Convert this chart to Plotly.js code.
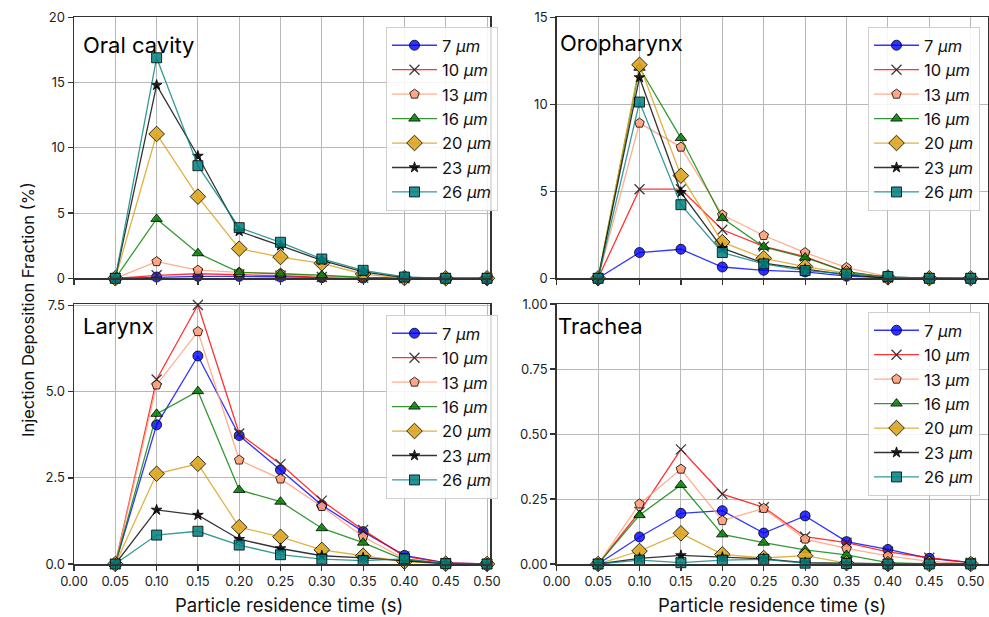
<!DOCTYPE html>
<html><head><meta charset="utf-8">
<script src="https://cdn.plot.ly/plotly-3.0.1.min.js"></script>
<style>html,body{margin:0;padding:0;background:#fff}#chart{width:989px;height:617px}</style>
</head><body><div id="chart"></div>
<script>
// residence time (s)
const times = [0.05,0.10,0.15,0.20,0.25,0.30,0.35,0.40,0.45,0.50];
const sizeLabels = ['7','10','13','16','20','23','26'];
const xTicks = [0,0.05,0.10,0.15,0.20,0.25,0.30,0.35,0.40,0.45,0.50];

// rows: 7, 10, 13, 16, 20, 23, 26 um
const oralCavity = [
  [0,0.10,0.15,0.15,0.10,0.05,0.02,0,0,0],
  [0,0.23,0.35,0.30,0.20,0.10,0.03,0,0,0],
  [0,1.28,0.62,0.45,0.38,0.12,0.04,0,0,0],
  [0,4.55,1.92,0.46,0.35,0.24,0.06,0.01,0,0],
  [0,11.06,6.26,2.27,1.63,1.15,0.33,0.02,0,0],
  [0,14.8,9.37,3.6,2.5,1.38,0.5,0.05,0,0],
  [0,16.9,8.63,3.88,2.76,1.48,0.61,0.1,0,0]
];
const oropharynx = [
  [0,1.48,1.67,0.65,0.46,0.37,0.12,0.03,0,0],
  [0,5.12,5.12,2.79,1.83,1.25,0.35,0.05,0,0],
  [0,8.92,7.54,3.65,2.46,1.48,0.62,0.1,0,0],
  [0,12.1,8.06,3.46,1.81,1.19,0.38,0.05,0,0],
  [0,12.27,5.9,2.08,1.15,0.67,0.29,0.05,0,0],
  [0,11.54,4.94,1.73,0.87,0.52,0.2,0.03,0,0],
  [0,10.13,4.23,1.48,0.83,0.44,0.25,0.1,0,0]
];
const larynx = [
  [0,4.04,6.04,3.73,2.73,1.71,0.94,0.25,0.03,0],
  [0,5.36,7.52,3.79,2.9,1.84,0.99,0.22,0.03,0],
  [0,5.2,6.75,3.02,2.47,1.67,0.79,0.15,0.02,0],
  [0,4.36,5.02,2.15,1.81,1.04,0.62,0.12,0.01,0],
  [0,2.62,2.91,1.07,0.79,0.41,0.24,0.07,0.01,0],
  [0,1.57,1.42,0.72,0.45,0.24,0.18,0.1,0.01,0],
  [0,0.84,0.95,0.55,0.27,0.14,0.1,0.15,0.01,0]
];
const trachea = [
  [0,0.104,0.195,0.205,0.119,0.185,0.086,0.056,0.022,0.005],
  [0,0.2,0.441,0.269,0.218,0.105,0.082,0.047,0.024,0.005],
  [0,0.231,0.365,0.167,0.214,0.096,0.06,0.031,0.01,0],
  [0,0.188,0.304,0.114,0.082,0.054,0.035,0.005,0,0],
  [0,0.05,0.118,0.037,0.023,0.032,0.003,0,0,0],
  [0,0.022,0.033,0.026,0.02,0.005,0.002,0,0,0],
  [0,0.015,0.005,0.015,0.018,0.003,0.002,0,0,0]
];

const lineColors = ['rgba(0,0,255,0.8)','rgba(255,0,0,0.8)','rgba(255,160,122,0.85)','rgba(0,128,0,0.8)','rgba(218,165,32,0.85)','rgba(0,0,0,0.8)','rgba(0,128,128,0.8)'];
const faceColors = ['rgba(0,0,255,0.8)','rgba(40,40,40,0.9)','rgba(255,160,122,0.9)','rgba(0,128,0,0.85)','rgba(218,165,32,0.9)','rgba(0,0,0,0.85)','rgba(0,128,128,0.85)'];
const symbols = ['circle','x-thin','pentagon','triangle-up','diamond','star','square'];
const msizes = [10,10,10,10,12,8,10];

const FONT = 'Inter, "Liberation Sans", sans-serif';
const regions = [
  {data: oralCavity, xa:'x', ya:'y', leg:'legend'},
  {data: oropharynx, xa:'x2', ya:'y2', leg:'legend2'},
  {data: larynx, xa:'x3', ya:'y3', leg:'legend3'},
  {data: trachea, xa:'x4', ya:'y4', leg:'legend4'}
];
const traces = [];
regions.forEach(r => {
  r.data.forEach((vals, i) => {
    const isX = symbols[i] === 'x-thin';
    traces.push({
      x: times, y: vals, xaxis: r.xa, yaxis: r.ya, legend: r.leg,
      type: 'scatter', mode: 'lines+markers',
      name: sizeLabels[i] + ' <i>μm</i>',
      line: {color: lineColors[i], width: 1.3},
      marker: {symbol: symbols[i], size: msizes[i], color: faceColors[i],
               line: {color: isX ? 'rgba(40,40,40,0.9)' : 'rgba(0,0,0,0.8)', width: isX ? 1.3 : 1}},
      cliponaxis: false
    });
  });
});

const H = 617, W = 989;
const py = p => 1 - p / H;
const px = p => p / W;

function xax(domain, range, showLabels) {
  return {domain: domain, range: range, tickvals: xTicks, ticktext: xTicks.map(v => v.toFixed(2)),
    showticklabels: showLabels, ticks: 'outside', ticklen: 5, tickwidth: 1.2, tickcolor: '#333',
    showline: true, mirror: true, linecolor: '#333', linewidth: 1.5,
    showgrid: true, gridcolor: '#b8b8b8', gridwidth: 1, zeroline: false,
    tickfont: {family: FONT, size: 13, color: '#222'}};
}
function yax(domain, range, tv, tt) {
  return {domain: domain, range: range, tickvals: tv, ticktext: tt,
    ticks: 'outside', ticklen: 5, tickwidth: 1.2, tickcolor: '#333',
    showline: true, mirror: true, linecolor: '#333', linewidth: 1.5,
    showgrid: true, gridcolor: '#b8b8b8', gridwidth: 1, zeroline: false,
    tickfont: {family: FONT, size: 13, color: '#222'}};
}
const legBase = {font: {family: FONT, size: 16.5, color: '#111'}, bgcolor: 'rgba(255,255,255,0.85)',
  bordercolor: '#d0d0d0', borderwidth: 1, xanchor: 'left', yanchor: 'top', tracegroupgap: 0, itemwidth: 45};

const topDom = [py(278.3), py(17.3)];
const botDom = [py(564), py(304)];
const leftDom = [px(74), px(490)];
const rightDom = [px(556.7), px(987.7)];

const layout = {
  width: W, height: H, margin: {l:0, r:0, t:0, b:0},
  paper_bgcolor: '#fff', plot_bgcolor: '#fff', showlegend: true,
  font: {family: FONT},
  xaxis: Object.assign(xax(leftDom, [0, 0.5036], false), {anchor: 'y'}),
  yaxis: Object.assign(yax(topDom, [0, 20], [0,5,10,15,20], ['0','5','10','15','20']), {anchor: 'x'}),
  xaxis2: Object.assign(xax(rightDom, [0, 0.5205], false), {anchor: 'y2'}),
  yaxis2: Object.assign(yax(topDom, [0, 15], [0,5,10,15], ['0','5','10','15']), {anchor: 'x2'}),
  xaxis3: Object.assign(xax(leftDom, [0, 0.5036], true), {anchor: 'y3'}),
  yaxis3: Object.assign(yax(botDom, [0, 7.55], [0,2.5,5,7.5], ['0.0','2.5','5.0','7.5']), {anchor: 'x3'}),
  xaxis4: Object.assign(xax(rightDom, [0, 0.5205], true), {anchor: 'y4'}),
  yaxis4: Object.assign(yax(botDom, [0, 1], [0,0.25,0.5,0.75,1], ['0.00','0.25','0.50','0.75','1.00']), {anchor: 'x4'}),
  legend: Object.assign({}, legBase, {x: px(386), y: py(27)}),
  legend2: Object.assign({}, legBase, {x: px(868), y: py(27)}),
  legend3: Object.assign({}, legBase, {x: px(386), y: py(315)}),
  legend4: Object.assign({}, legBase, {x: px(868), y: py(312)}),
  annotations: [
    {text: 'Oral cavity', xref: 'paper', yref: 'paper', x: px(81), y: py(45), xanchor: 'left', yanchor: 'middle', showarrow: false, font: {family: FONT, size: 22, color: '#000'}},
    {text: 'Oropharynx', xref: 'paper', yref: 'paper', x: px(558), y: py(43), xanchor: 'left', yanchor: 'middle', showarrow: false, font: {family: FONT, size: 22, color: '#000'}},
    {text: 'Larynx', xref: 'paper', yref: 'paper', x: px(81), y: py(326), xanchor: 'left', yanchor: 'middle', showarrow: false, font: {family: FONT, size: 22, color: '#000'}},
    {text: 'Trachea', xref: 'paper', yref: 'paper', x: px(556), y: py(326), xanchor: 'left', yanchor: 'middle', showarrow: false, font: {family: FONT, size: 22, color: '#000'}},
    {text: 'Particle residence time (s)', xref: 'paper', yref: 'paper', x: px(289), y: py(605), xanchor: 'center', yanchor: 'middle', showarrow: false, font: {family: FONT, size: 18.5, color: '#111'}},
    {text: 'Particle residence time (s)', xref: 'paper', yref: 'paper', x: px(772), y: py(605), xanchor: 'center', yanchor: 'middle', showarrow: false, font: {family: FONT, size: 18.5, color: '#111'}},
    {text: 'Injection Deposition Fraction (%)', xref: 'paper', yref: 'paper', x: px(28), y: py(310), xanchor: 'center', yanchor: 'middle', textangle: -90, showarrow: false, font: {family: FONT, size: 16.5, color: '#111'}}
  ]
};

Plotly.newPlot('chart', traces, layout, {displayModeBar: false, staticPlot: true});
</script>
</body></html>
